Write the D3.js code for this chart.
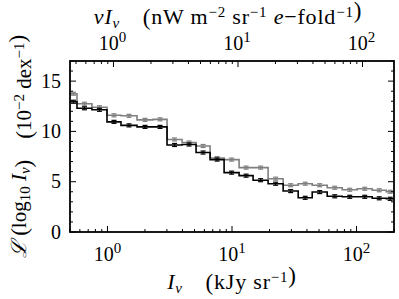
<!DOCTYPE html>
<head>
<meta charset="utf-8">
<script src="https://d3js.org/d3.v7.min.js"></script>
<title>Intensity distribution</title>
<style>
  body { margin: 0; background: #fff; }
  text { font-family: "Liberation Serif", "DejaVu Serif", serif; fill: #000; }
</style>
</head>
<body>
<div id="chart"></div>
<script>
// bin edges in kJy sr^-1 (log spaced), values in 10^-2 dex^-1
const binEdges = [0.5, 0.569, 0.75, 0.991, 1.284, 1.726, 2.321, 3.008, 3.971, 5.145, 6.668, 8.64,
                  11.40, 14.77, 19.50, 25.75, 34.0, 44.05, 58.15, 76.8, 101.3, 133.7, 173.3, 200];
const blackValues = [12.95, 12.3, 12.15, 10.95, 10.6, 10.45, 10.45, 8.65, 8.7, 7.9, 7.2, 5.9,
                     5.6, 5.15, 4.8, 4.07, 3.4, 3.97, 3.55, 3.5, 3.5, 3.35, 3.3];
const grayValues  = [13.75, 12.75, 12.4, 11.6, 11.55, 11.15, 11.2, 9.2, 8.9, 8.55, 7.35, 7.2,
                     6.4, 6.4, 5.3, 4.65, 4.8, 4.65, 4.4, 4.2, 4.3, 4.15, 4.0];
const errSize = 0.15;
const yTicks = [0, 5, 10, 15];
const xDecades = [0, 1, 2];
const nuFactor = 0.895; // nu I_nu per unit I_nu

const W = 399, H = 299;
const L = 70, R = 394, T = 61, B = 232;

const svg = d3.select('#chart').append('svg').attr('width', W).attr('height', H);

const x = d3.scaleLog().domain([binEdges[0], binEdges[binEdges.length - 1]]).range([L, R]);
const xTop = d3.scaleLog().domain([binEdges[0] * nuFactor, binEdges[binEdges.length - 1] * nuFactor]).range([L, R]);
const y = d3.scaleLinear().domain([0, 17]).range([B, T]);

function logTicks(scale) {
  let t = [];
  const [a, b] = scale.domain();
  for (let e = -1; e <= 3; e++) {
    for (let m = 1; m < 10; m++) {
      const v = m * Math.pow(10, e);
      if (v >= a && v <= b) t.push(v);
    }
  }
  return t;
}
const isMajor = v => Math.abs(Math.log10(v) - Math.round(Math.log10(v))) < 1e-6;

// series
function drawSeries(values, color) {
  const pts = values.map((v, i) => [binEdges[i], v]);
  pts.push([binEdges[binEdges.length - 1], values[values.length - 1]]);
  const line = d3.line()
    .x(d => x(d[0]))
    .y(d => y(d[1]))
    .curve(d3.curveStepAfter);
  svg.append('path')
    .datum(pts)
    .attr('d', line)
    .style('fill', 'none')
    .style('stroke', color)
    .style('stroke-width', 1.6);

  const g = svg.append('g').style('stroke', color).style('stroke-width', 1.2);
  values.forEach(function(v, i) {
    const cx = x(Math.sqrt(binEdges[i] * binEdges[i + 1]));
    g.append('line').attr('x1', cx).attr('x2', cx).attr('y1', y(v - errSize)).attr('y2', y(v + errSize));
    g.append('line').attr('x1', cx - 2.5).attr('x2', cx + 2.5).attr('y1', y(v - errSize)).attr('y2', y(v - errSize));
    g.append('line').attr('x1', cx - 2.5).attr('x2', cx + 2.5).attr('y1', y(v + errSize)).attr('y2', y(v + errSize));
  });
}
drawSeries(grayValues, '#7f7f7f');
drawSeries(blackValues, '#000');

// ticks
const tg = svg.append('g').style('stroke', '#000').style('stroke-width', 1);
logTicks(x).forEach(function(v) {
  const len = isMajor(v) ? 6 : 3;
  tg.append('line').attr('x1', x(v)).attr('x2', x(v)).attr('y1', B).attr('y2', B - len);
});
logTicks(xTop).forEach(function(v) {
  const len = isMajor(v) ? 6 : 3;
  tg.append('line').attr('x1', xTop(v)).attr('x2', xTop(v)).attr('y1', T).attr('y2', T + len);
});
d3.range(0, 18).forEach(function(v) {
  const len = v % 5 == 0 ? 6 : 3;
  tg.append('line').attr('x1', L).attr('x2', L + len).attr('y1', y(v)).attr('y2', y(v));
  tg.append('line').attr('x1', R).attr('x2', R - len).attr('y1', y(v)).attr('y2', y(v));
});

// frame
svg.append('rect')
  .attr('x', L).attr('y', T).attr('width', R - L).attr('height', B - T)
  .style('fill', 'none').style('stroke', '#000').style('stroke-width', 1.8);

// tick labels
function powLabel(px, py, k) {
  const t = svg.append('text').attr('x', px).attr('y', py)
    .style('font-size', '20px').style('text-anchor', 'middle');
  t.append('tspan').text('10');
  t.append('tspan').attr('dy', -8).style('font-size', '15px').text(k);
}
xDecades.forEach(function(k) {
  powLabel(x(Math.pow(10, k)), 261, k);
  powLabel(xTop(Math.pow(10, k)) - 1, 50, k);
});
yTicks.forEach(function(v) {
  svg.append('text').attr('x', 61).attr('y', y(v) + 6.5)
    .style('font-size', '20px').style('text-anchor', 'end').text(v);
});

// axis titles
function sup(t, s) {
  t.append('tspan').attr('dy', -7).style('font-size', '15px').text(s);
  return t.append('tspan').attr('dy', 7);
}
function sub(t, s, italic) {
  t.append('tspan').attr('dy', 4).style('font-size', '15px')
    .style('font-style', italic ? 'italic' : 'normal').text(s);
  return t.append('tspan').attr('dy', -4);
}
function paren(t, s) {
  t.append('tspan').attr('dy', 1).style('font-size', '23px').text(s);
  return t.append('tspan').attr('dy', -1);
}

const xl = svg.append('text').attr('x', 232).attr('y', 289)
  .style('font-size', '22px').style('letter-spacing', '0.8px').style('text-anchor', 'middle');
xl.append('tspan').style('font-style', 'italic').text('I');
sub(xl, 'ν', true).text('\u2003');
paren(xl, '(').text('kJy sr');
sup(xl, '−1');
paren(xl, ')');

const tl = svg.append('text').attr('x', 228).attr('y', 24)
  .style('font-size', '22px').style('letter-spacing', '0.8px').style('text-anchor', 'middle');
tl.append('tspan').style('font-style', 'italic').text('νI');
sub(tl, 'ν', true).text('\u2003');
paren(tl, '(').text('nW m');
sup(tl, '−2').text(' sr');
sup(tl, '−1').style('font-style', 'italic').text(' e');
tl.append('tspan').text('−fold');
sup(tl, '−1');
paren(tl, ')');

const yl = svg.append('text')
  .attr('transform', 'translate(26,' + ((T + B) / 2) + ') rotate(-90)')
  .style('font-size', '21px').style('text-anchor', 'middle');
yl.append('tspan').style('font-style', 'italic').text('ℒ ');
paren(yl, '(').text('log');
sub(yl, '10', false).style('font-style', 'italic').text(' I');
sub(yl, 'ν', true);
paren(yl, ')');
yl.append('tspan').text('\u2003');
paren(yl, '(').text('10');
sup(yl, '−2').text(' dex');
sup(yl, '−1');
paren(yl, ')');
</script>
</body>
